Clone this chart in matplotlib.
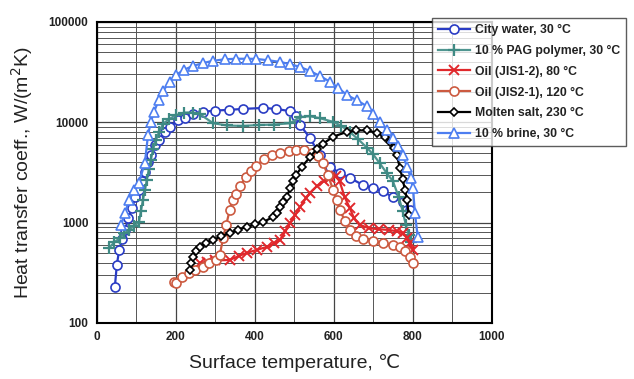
import matplotlib
matplotlib.use("Agg")
import matplotlib.pyplot as plt
from matplotlib.ticker import FixedLocator, LogLocator, NullFormatter

plt.rcParams['font.family'] = ['Liberation Sans', 'DejaVu Sans']

# ---- data ----
water_T = [46, 51, 57, 64, 72, 80, 89, 98, 107, 115, 122, 130, 138, 148, 158, 172, 186, 205, 223, 245,
           269, 300, 335, 370, 421, 455, 490, 505, 515, 540, 565, 590, 616, 641, 674, 700, 725, 750, 775, 793]
water_h = [229, 379, 535, 680, 850, 1100, 1400, 1800, 2120, 2600, 3200, 4000, 4730, 6000, 6700, 8000, 9000, 10500, 11100, 12000,
           12700, 13100, 13300, 13600, 13900, 13600, 12900, 11500, 9420, 7000, 4730, 3600, 3130, 2790, 2380, 2200, 2050, 1800, 1600, 1350]

pag_T = [31, 45, 59, 70, 82, 95, 107, 112, 117, 122, 127, 132, 137, 143, 150, 158, 168, 184, 201, 222,
         244, 262, 295, 330, 370, 410, 450, 490, 515, 540, 565, 599, 620, 641, 662, 684, 700, 717, 735, 750,
         765, 775, 783, 790, 797]
pag_h = [560, 640, 700, 780, 846, 930, 1015, 1300, 1680, 2100, 2670, 3400, 4220, 5400, 6680, 8000, 9640, 10800, 11800, 12500,
         12500, 12000, 9800, 9300, 9200, 9400, 9500, 9800, 11300, 11500, 11000, 10100, 9200, 8000, 6800, 5600, 4800, 3900, 3100, 2600,
         1800, 1300, 950, 760, 640]

oil12_T = [262, 280, 300, 337, 360, 380, 405, 431, 450, 464, 478, 490, 503, 515, 530, 540, 557, 575, 590, 605,
           615, 628, 641, 652, 666, 690, 715, 740, 760, 776, 786, 793, 801]
oil12_h = [396, 410, 420, 425, 465, 499, 535, 573, 620, 671, 820, 994, 1200, 1436, 1750, 1980, 2300, 2600, 2800, 2900,
           2600, 1800, 1400, 1100, 950, 880, 860, 846, 820, 789, 700, 627, 535]

oil21_T = [195, 201, 215, 234, 250, 269, 285, 302, 312, 320, 328, 337, 344, 352, 363, 378, 390, 403, 425, 445,
           465, 487, 505, 525, 545, 560, 573, 585, 599, 608, 616, 628, 641, 657, 674, 700, 725, 750, 768, 780,
           793, 801]
oil21_h = [258, 251, 285, 316, 340, 361, 395, 425, 480, 700, 950, 1340, 1700, 1950, 2300, 2880, 3300, 3700, 4300, 4730,
           5000, 5200, 5300, 5300, 5000, 4600, 3940, 3000, 2120, 1700, 1340, 1050, 846, 740, 690, 650, 627, 600, 575, 520,
           455, 396]

salt_T = [236, 240, 244, 252, 262, 278, 295, 315, 337, 358, 380, 400, 422, 447, 457, 464, 472, 481, 490, 498,
          505, 520, 540, 557, 573, 599, 633, 658, 684, 709, 730, 742, 752, 760, 768, 775, 781, 786, 790]
salt_h = [337, 400, 455, 520, 573, 630, 673, 730, 789, 850, 906, 960, 1016, 1140, 1250, 1436, 1600, 1800, 2200, 2600,
          3000, 3600, 4500, 5400, 6100, 7200, 8000, 8300, 8300, 7900, 7100, 6400, 5500, 4700, 3500, 2700, 2100, 1700, 1200]

brine_T = [62, 72, 82, 95, 107, 122, 130, 137, 145, 157, 168, 185, 201, 222, 244, 270, 294, 325, 353, 380,
           403, 435, 464, 490, 515, 540, 565, 590, 612, 633, 660, 684, 700, 717, 735, 750, 763, 775, 786, 795,
           801, 806, 813]
brine_h = [950, 1250, 1680, 2100, 2500, 3940, 7480, 10000, 12700, 16500, 20500, 25500, 29700, 33500, 36500, 39000, 41000, 42500, 43000, 43000,
           42900, 41500, 40000, 38000, 35600, 32500, 29000, 25500, 22000, 18800, 16500, 14500, 12200, 10100, 8300, 7000, 5800, 4700, 3600, 2800,
           2200, 1250, 720]

labels = ["City water, 30 \u00b0C", "10 % PAG polymer, 30 \u00b0C", "Oil (JIS1-2), 80 \u00b0C",
          "Oil (JIS2-1), 120 \u00b0C", "Molten salt, 230 \u00b0C", "10 % brine, 30 \u00b0C"]
x_ticks = [0, 200, 400, 600, 800, 1000]
y_ticks = [100, 1000, 10000, 100000]

# ---- figure ----
fig = plt.figure(figsize=(6.34, 3.79), dpi=100)
ax = fig.add_axes([0.1525, 0.1478, 0.6228, 0.7942])

series = [
    (water_T, water_h, dict(color="#2a3cc4", marker="o", ms=6.5, mfc="white", mec="#2a3cc4", mew=1.2)),
    (pag_T, pag_h, dict(color="#4f9590", marker="+", ms=8, mec="#3f8a84", mew=1.6)),
    (oil12_T, oil12_h, dict(color="#e0282c", marker="x", ms=6.5, mec="#e0282c", mew=1.4)),
    (oil21_T, oil21_h, dict(color="#cc5a40", marker="o", ms=6.5, mfc="white", mec="#cc5a40", mew=1.2)),
    (salt_T, salt_h, dict(color="black", marker="D", ms=4.5, mfc="white", mec="black", mew=1.2)),
    (brine_T, brine_h, dict(color="#4d7ef0", marker="^", ms=6.5, mfc="white", mec="#4d7ef0", mew=1.2)),
]
for i, (T, h, st) in enumerate(series):
    ax.plot(T, h, lw=1.6, label=labels[i], zorder=3 + i, **st)

ax.set_yscale("log")
ax.set_xlim(0, 1000)
ax.set_ylim(100, 100000)
ax.xaxis.set_major_locator(FixedLocator(x_ticks))
ax.xaxis.set_minor_locator(FixedLocator(list(range(100, 1000, 200))))
ax.yaxis.set_major_locator(FixedLocator(y_ticks))
ax.yaxis.set_minor_locator(LogLocator(base=10, subs=range(2, 10)))
ax.yaxis.set_minor_formatter(NullFormatter())
ax.set_yticklabels([str(v) for v in y_ticks])
ax.set_xticklabels([str(v) for v in x_ticks])
ax.tick_params(which="both", length=0, labelsize=8.5, pad=6)
for lab in ax.get_xticklabels() + ax.get_yticklabels():
    lab.set_fontweight("bold")
    lab.set_color("#222222")

ax.grid(True, which="major", color="#444444", lw=0.9)
ax.grid(True, which="minor", color="#555555", lw=0.7)
ax.set_axisbelow(True)
for sp in ax.spines.values():
    sp.set_linewidth(1.5)
    sp.set_color("black")

ax.set_xlabel("Surface temperature, \u2103", fontsize=14, color="#222222", labelpad=8)
ax.set_ylabel("Heat transfer coeff., W/(m$^2$K)", fontsize=14, color="#222222", labelpad=10)

leg = fig.legend(loc="upper left", bbox_to_anchor=(0.681, 0.9525), borderaxespad=0.0, numpoints=1,
                 fontsize=8.8, frameon=True, fancybox=False, edgecolor="#333333",
                 handlelength=2.6, handletextpad=0.4, labelspacing=0.72, borderpad=0.5)
leg.get_frame().set_linewidth(1.0)
leg.set_zorder(20)
for t in leg.get_texts():
    t.set_fontweight("bold")
    t.set_color("#222222")

fig.savefig("out.png", dpi=100)
